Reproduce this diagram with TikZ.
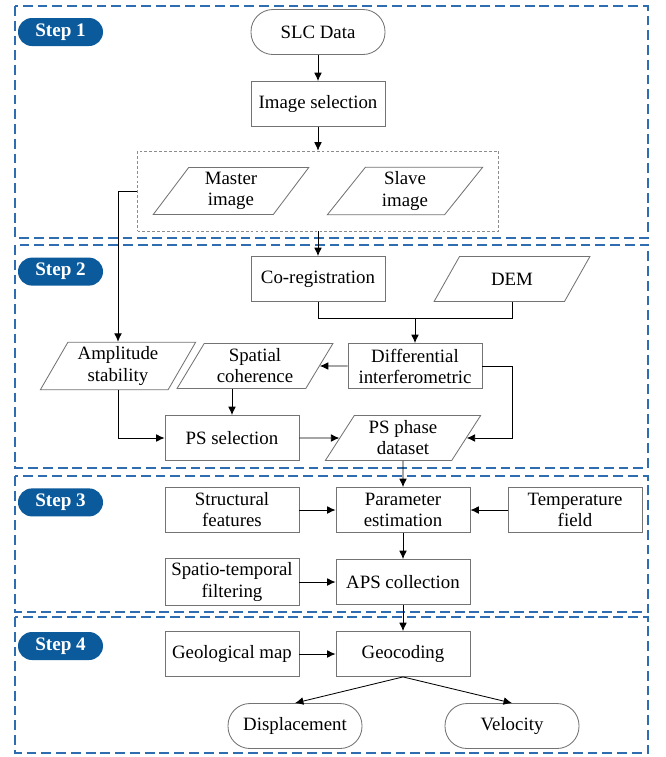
\documentclass[tikz,border=0pt]{standalone}
\usepackage{fontspec}
\setmainfont{Liberation Serif}
\usetikzlibrary{positioning,shapes,arrows.meta}

\definecolor{stepblue}{HTML}{0B5A9C}
\definecolor{frameblue}{HTML}{2E6EB0}

\begin{document}
\begin{tikzpicture}[node distance=1.8cm, font=\fontsize{13.4pt}{15pt}\selectfont]
    \tikzset{
        process/.style = {rectangle, draw=black!55, line width=0.6pt, minimum width=3.35cm, minimum height=1.125cm, text centered, align=center, fill=white},
        terminal/.style = {rectangle, rounded corners=0.55cm, draw=black!55, line width=0.6pt, minimum width=3.35cm, minimum height=1.125cm, text centered, fill=white},
        data/.style = {trapezium, trapezium left angle=65, trapezium right angle=115, trapezium stretches=true,
                       draw=black!55, line width=0.6pt, minimum width=3.9cm, minimum height=1.125cm, align=center, inner xsep=0pt},
        groupbox/.style = {rectangle, draw=black!45, dash pattern=on 2pt off 1.5pt, line width=0.5pt, minimum width=9.025cm, minimum height=2cm},
        stepframe/.style = {draw=frameblue, line width=1pt, dash pattern=on 7pt off 3.5pt},
        badge/.style = {rectangle, rounded corners=0.35cm, fill=stepblue, text=white, font=\fontsize{13.6pt}{15pt}\selectfont\bfseries, minimum width=2.125cm, minimum height=0.7cm},
        arrow/.style = {line width=0.6pt, -{Latex[length=6pt,width=5.5pt]}},
        line/.style = {line width=0.6pt}
    }
    \useasboundingbox (0,0) rectangle (16.65,-18.925);

    % step frames
    \draw[stepframe] (0.375,-0.15) rectangle (16.2,-5.95);
    \draw[stepframe] (0.375,-6.125) rectangle (16.2,-11.7);
    \draw[stepframe] (0.375,-11.9) rectangle (16.2,-15.3);
    \draw[stepframe] (0.375,-15.425) rectangle (16.2,-18.825);
    \node[badge] (step1) at (1.5125,-0.8) {Step 1};
    \node[badge] (step2) at (1.5125,-6.79) {Step 2};
    \node[badge] (step3) at (1.5125,-12.56) {Step 3};
    \node[badge] (step4) at (1.5125,-16.15) {Step 4};

    % step 1
    \node (slc) [terminal] at (7.95,-0.8) {SLC Data};
    \node (imgsel) [process, below of=slc] {Image selection};
    \draw [arrow] (slc) -- (imgsel);
    \node (group) [groupbox, below of=imgsel, yshift=-0.375cm] {};
    \node (master) [data, left of=group, xshift=-0.375cm] {Master\\image};
    \node (slave) [data, right of=group, xshift=0.375cm] {Slave\\image};
    \draw [arrow] (imgsel) -- (group);

    % step 2
    \node (coreg) [process, below of=group, yshift=-0.4cm] {Co-registration};
    \node (dem) [data, right of=coreg, xshift=3.05cm] {DEM};
    \draw [arrow] (group) -- (coreg);
    \node (diff) [process, below of=coreg, yshift=-0.375cm, xshift=2.425cm] {Differential\\interferometric};
    \coordinate[below=0.4cm of coreg] (merge);
    \draw [line] (coreg) -- (merge) -| (dem);
    \draw [arrow] (merge -| diff) -- (diff);

    \node (spatial) [data, left of=diff, xshift=-2.2cm] {Spatial\\coherence};
    \node (amp) [data, left of=spatial, xshift=-1.625cm] {Amplitude\\stability};
    \draw [arrow] (diff) -- (spatial);
    \draw [arrow] (group.west) -| (amp);

    \node (pssel) [process, below of=spatial, xshift=-0.575cm] {PS selection};
    \node (psdata) [data, right of=pssel, xshift=2.475cm] {PS phase\\dataset};
    \draw [arrow] (spatial.south -| pssel) -- (pssel);
    \draw [arrow] (amp) |- (pssel);
    \draw [arrow] (pssel) -- (psdata);
    \coordinate[right=0.75cm of diff] (diffturn);
    \draw [arrow] (diff) -- (diffturn) |- (psdata);

    % step 3
    \node (param) [process, below of=psdata] {Parameter\\estimation};
    \node (struct) [process, left of=param, xshift=-2.475cm] {Structural\\features};
    \node (temp) [process, right of=param, xshift=2.5cm] {Temperature\\field};
    \draw [arrow] (psdata) -- (param);
    \draw [arrow] (struct) -- (param);
    \draw [arrow] (temp) -- (param);

    \node (aps) [process, below of=param] {APS collection};
    \node (spatio) [process, left of=aps, xshift=-2.475cm] {Spatio-temporal\\filtering};
    \draw [arrow] (param) -- (aps);
    \draw [arrow] (spatio) -- (aps);

    % step 4
    \node (geo) [process, below of=aps] {Geocoding};
    \node (geomap) [process, left of=geo, xshift=-2.475cm] {Geological map};
    \draw [arrow] (aps) -- (geo);
    \draw [arrow] (geomap) -- (geo);

    \node (disp) [terminal, below of=geo, xshift=-2.7cm] {Displacement};
    \node (vel) [terminal, below of=geo, xshift=2.725cm] {Velocity};
    \draw [arrow] (geo.south) -- (disp.north);
    \draw [arrow] (geo.south) -- (vel.north);
\end{tikzpicture}
\end{document}
